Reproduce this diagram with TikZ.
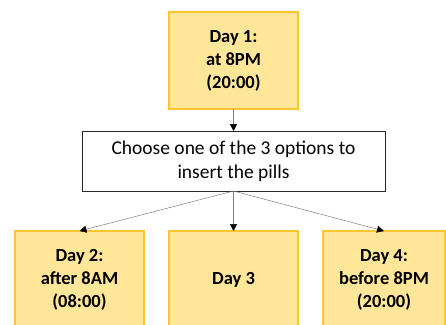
\documentclass[tikz,border=0pt]{standalone}
\usepackage{fontspec}
\setmainfont{Carlito}
\usetikzlibrary{arrows.meta,positioning}
\definecolor{DayFill}{HTML}{FFE699}
\definecolor{DayRule}{HTML}{FFC52E}
\definecolor{LinkGray}{HTML}{7F7F7F}

\begin{document}
\begin{tikzpicture}[x=1pt, y=1pt,
  day/.style={draw=DayRule, fill=DayFill, line width=1.4pt, outer sep=0pt,
              minimum width=129pt, minimum height=97pt, align=center,
              font=\fontsize{18.5}{23}\selectfont\bfseries},
  choice/.style={draw=black!85, fill=white, line width=0.8pt, outer sep=0pt,
                 minimum width=303pt, minimum height=60pt, align=center,
                 font=\fontsize{19.5}{24}\selectfont},
  arr/.style={-{Triangle[length=7pt, width=7pt, color=black]}, line width=0.5pt, draw=LinkGray}]
  \useasboundingbox (0,0) rectangle (446,-324);
  \clip (0,0) rectangle (446,-324);
  \node[day] (d1) at (233.5,-60.5) {Day 1:\\at 8PM\\(20:00)};
  \node[choice, below=22pt of d1] (ch) {Choose one of the 3 options to\\insert the pills};
  \node[day, below=40pt of ch] (d3) {Day 3};
  \node[day, left=25pt of d3] (d2) {Day 2:\\after 8AM\\(08:00)};
  \node[day, right=25pt of d3, minimum width=122pt] (d4) {Day 4:\\before 8PM\\(20:00)};
  \draw[arr] (d1)--(ch);
  \draw[arr] (ch.south)--(d2.north); \draw[arr] (ch.south)--(d3.north);
  \draw[arr] (ch.south)--(d4.north);
\end{tikzpicture}
\end{document}
